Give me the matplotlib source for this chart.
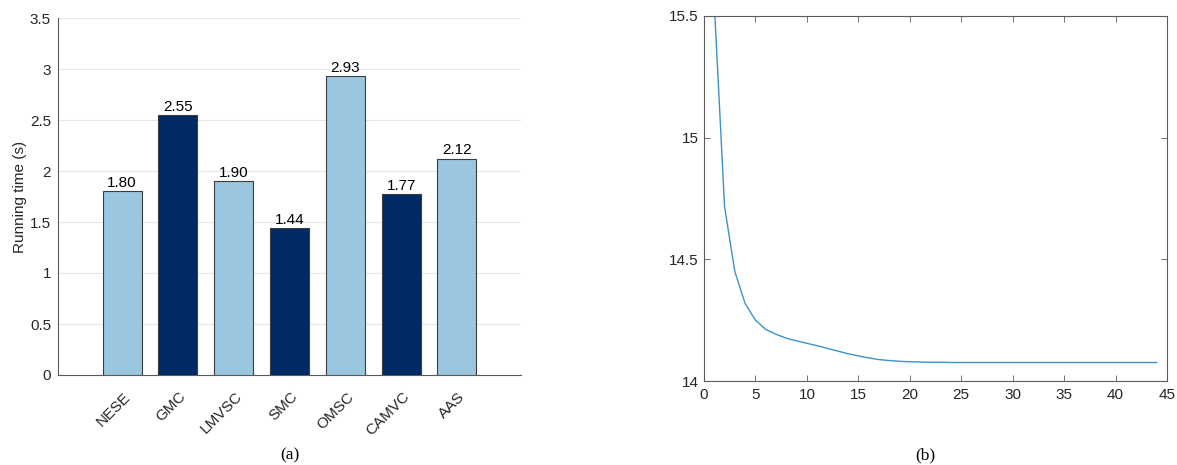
import matplotlib
matplotlib.use("Agg")
import matplotlib.pyplot as plt
from matplotlib.transforms import ScaledTranslation

# ---- data ----
methods = ["NESE", "GMC", "LMVSC", "SMC", "OMSC", "CAMVC", "AAS"]
run_times = [1.80, 2.55, 1.90, 1.44, 2.93, 1.77, 2.12]
bar_dark = [False, True, False, True, False, True, False]

iterations = list(range(1, 45))
objective = [15.55, 14.716, 14.449, 14.318, 14.250, 14.212, 14.192, 14.176,
             14.165, 14.155, 14.145, 14.134, 14.123, 14.112, 14.103, 14.095,
             14.088, 14.084, 14.081, 14.079, 14.078, 14.077, 14.077, 14.076,
             14.076, 14.076, 14.076, 14.076, 14.076, 14.076, 14.076, 14.076,
             14.076, 14.076, 14.076, 14.076, 14.076, 14.076, 14.076, 14.076,
             14.076, 14.076, 14.076, 14.076]

left_yticks = [0, 0.5, 1, 1.5, 2, 2.5, 3, 3.5]
left_yticklabels = ["0", "0.5", "1", "1.5", "2", "2.5", "3", "3.5"]
right_xticks = [0, 5, 10, 15, 20, 25, 30, 35, 40, 45]
right_yticks = [14, 14.5, 15, 15.5]
right_yticklabels = ["14", "14.5", "15", "15.5"]

LIGHT = "#9AC6DF"
DARK = "#002A66"
TXT = "#262626"
SPINE = "#5a5a5a"

plt.rcParams["font.family"] = ["Liberation Sans", "DejaVu Sans"]
plt.rcParams["font.size"] = 11

fig = plt.figure(figsize=(11.77, 4.65), dpi=100)

# ---- (a) bar chart ----
ax1 = fig.add_axes([58 / 1177, 1 - 375 / 465, (521 - 58) / 1177, (375 - 18) / 465])
xpos = list(range(len(methods)))
colors = [DARK if d else LIGHT for d in bar_dark]
bars = ax1.bar(xpos, run_times, width=0.7, color=colors, edgecolor="#3c3c3c",
               linewidth=0.8, zorder=3)
for b, v in zip(bars, run_times):
    ax1.annotate(f"{v:.2f}", (b.get_x() + b.get_width() / 2, v),
                 xytext=(0, 1), textcoords="offset points",
                 ha="center", va="bottom", fontsize=11, color="black")
ax1.set_xlim(-1.15, 7.15)
ax1.set_ylim(0, 3.5)
ax1.set_yticks(left_yticks)
ax1.set_yticklabels(left_yticklabels)
ax1.yaxis.grid(True, color="#e6e6e6", linewidth=0.8, zorder=0)
ax1.set_axisbelow(True)
ax1.set_xticks(xpos)
ax1.set_xticklabels(methods, rotation=45, ha="right", va="center",
                    rotation_mode="anchor")
ax1.tick_params(axis="both", length=0, colors=TXT, labelsize=11)
ax1.tick_params(axis="x", pad=14)
ax1.tick_params(axis="y", pad=5)
offset = ScaledTranslation(6 / 100, 0, fig.dpi_scale_trans)
for lbl in ax1.get_xticklabels():
    lbl.set_transform(lbl.get_transform() + offset)
for s in ["top", "right"]:
    ax1.spines[s].set_visible(False)
for s in ["left", "bottom"]:
    ax1.spines[s].set_color(SPINE)
    ax1.spines[s].set_linewidth(0.8)
ax1.set_ylabel("Running time (s)", fontsize=11, color=TXT, labelpad=2)

# ---- (b) convergence curve ----
ax2 = fig.add_axes([704 / 1177, 1 - 381 / 465, (1167 - 704) / 1177, (381 - 16) / 465])
ax2.plot(iterations, objective, color="#3b93c6", linewidth=1.0)
ax2.set_xlim(0, 45)
ax2.set_ylim(14, 15.5)
ax2.set_xticks(right_xticks)
ax2.set_yticks(right_yticks)
ax2.set_yticklabels(right_yticklabels)
ax2.tick_params(axis="both", direction="in", length=4, width=0.6,
                colors=SPINE, labelcolor=TXT, labelsize=11,
                top=True, right=True)
ax2.tick_params(axis="x", pad=5)
ax2.tick_params(axis="y", pad=4)
for s in ax2.spines.values():
    s.set_color(SPINE)
    s.set_linewidth(0.8)

# ---- captions ----
fig.text(290 / 1177, 1 - 455 / 465, "(a)", ha="center", va="center",
         fontsize=12.5, family=["Liberation Serif", "DejaVu Serif"])
fig.text(925 / 1177, 1 - 455 / 465, "(b)", ha="center", va="center",
         fontsize=12.5, family=["Liberation Serif", "DejaVu Serif"])

fig.savefig("out.png", dpi=100)
